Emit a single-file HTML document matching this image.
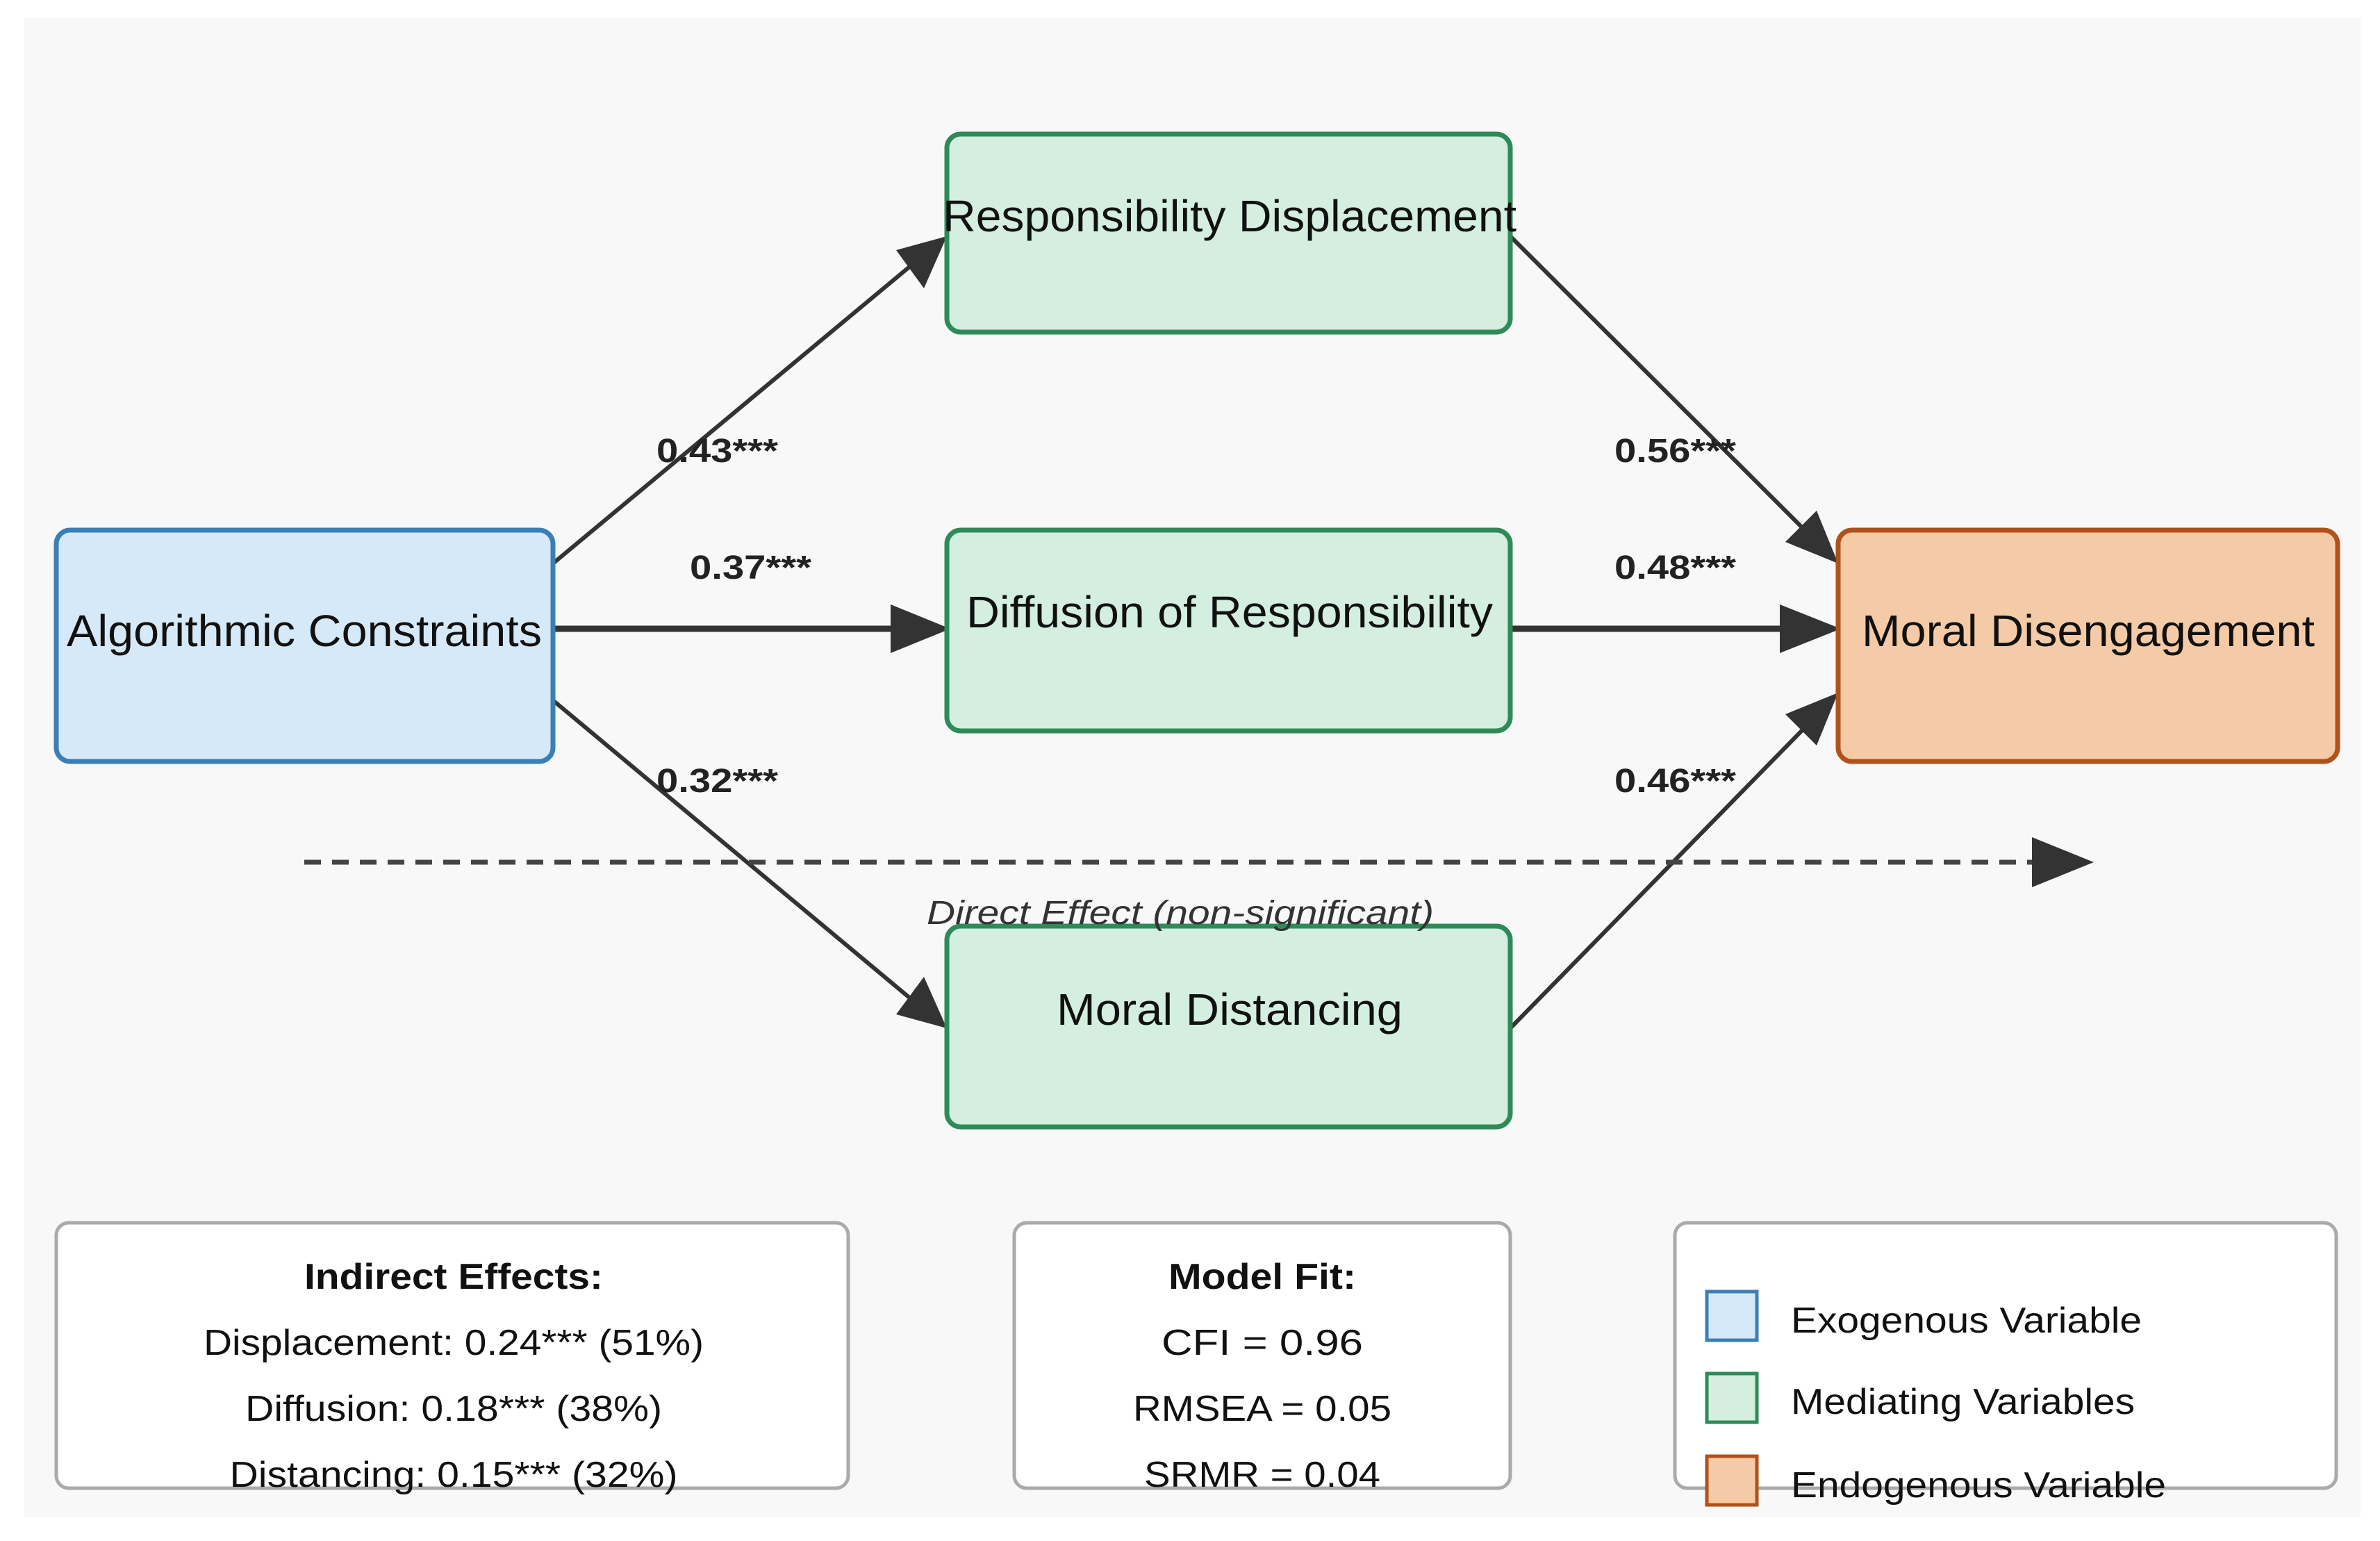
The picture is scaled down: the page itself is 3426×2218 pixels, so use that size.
<!DOCTYPE html>
<html><head><meta charset="utf-8"><style>html,body{margin:0;padding:0;background:#fff}svg{display:block}</style></head>
<body>
<svg width="3426" height="2218" viewBox="0 0 3426 2218" xmlns="http://www.w3.org/2000/svg" font-family="Liberation Sans, sans-serif">
<defs>
<marker id="ah" markerWidth="10" markerHeight="10" refX="9" refY="5" orient="auto" markerUnits="userSpaceOnUse" viewBox="0 0 10 10" style="overflow:visible">
</marker>
</defs>
<rect x="35" y="26" width="3363" height="2157" fill="#f8f8f8"/>
<!-- connectors -->
<g stroke="#333" stroke-width="6" fill="#333">
<line x1="796" y1="811" x2="1320" y2="375"/>
<polygon points="1363,340 1290,360 1330,415" stroke="none"/>
<line x1="796" y1="905" x2="1290" y2="905" stroke-width="9"/>
<polygon points="1368,905 1282,870 1282,940" stroke="none"/>
<line x1="796" y1="1008" x2="1320" y2="1445"/>
<polygon points="1363,1480 1330,1406 1290,1460" stroke="none"/>
<line x1="2174" y1="340" x2="2610" y2="775"/>
<polygon points="2646,811 2615,735 2570,780" stroke="none"/>
<line x1="2174" y1="905" x2="2580" y2="905" stroke-width="9"/>
<polygon points="2650,905 2562,870 2562,940" stroke="none"/>
<line x1="2174" y1="1480" x2="2610" y2="1035"/>
<polygon points="2646,997 2570,1028 2615,1073" stroke="none"/>
<line x1="438" y1="1241" x2="2935" y2="1241" stroke="#444" stroke-width="7" stroke-dasharray="24,16"/>
<polygon points="3014,1241 2925,1205 2925,1277" stroke="none"/>
</g>
<!-- nodes -->
<rect x="81" y="763" width="715" height="333" rx="20" fill="#d6e9f8" stroke="#3a7fb5" stroke-width="7"/>
<rect x="1363" y="193" width="811" height="285" rx="20" fill="#d4eedf" stroke="#2e8b57" stroke-width="7"/>
<rect x="1363" y="763" width="811" height="289" rx="20" fill="#d4eedf" stroke="#2e8b57" stroke-width="7"/>
<rect x="1363" y="1333" width="811" height="289" rx="20" fill="#d4eedf" stroke="#2e8b57" stroke-width="7"/>
<rect x="2646" y="763" width="719" height="333" rx="20" fill="#f5cba7" stroke="#b0521a" stroke-width="7"/>
<g font-size="64" fill="#111" text-anchor="middle">
<text x="438" y="930" textLength="684" lengthAdjust="spacingAndGlyphs">Algorithmic Constraints</text>
<text x="1770" y="333" textLength="826" lengthAdjust="spacingAndGlyphs">Responsibility Displacement</text>
<text x="1770" y="903" textLength="758" lengthAdjust="spacingAndGlyphs">Diffusion of Responsibility</text>
<text x="1770" y="1475" textLength="498" lengthAdjust="spacingAndGlyphs">Moral Distancing</text>
<text x="3006" y="930" textLength="652" lengthAdjust="spacingAndGlyphs">Moral Disengagement</text>
</g>
<g font-size="48" font-weight="bold" fill="#222">
<text x="945" y="665" textLength="175" lengthAdjust="spacingAndGlyphs">0.43***</text>
<text x="993" y="833" textLength="175" lengthAdjust="spacingAndGlyphs">0.37***</text>
<text x="945" y="1140" textLength="175" lengthAdjust="spacingAndGlyphs">0.32***</text>
<text x="2324" y="665" textLength="175" lengthAdjust="spacingAndGlyphs">0.56***</text>
<text x="2324" y="833" textLength="175" lengthAdjust="spacingAndGlyphs">0.48***</text>
<text x="2324" y="1140" textLength="175" lengthAdjust="spacingAndGlyphs">0.46***</text>
</g>
<text x="1699" y="1330" font-size="48" font-style="italic" fill="#333" text-anchor="middle" textLength="730" lengthAdjust="spacingAndGlyphs">Direct Effect (non-significant)</text>
<!-- bottom boxes -->
<rect x="81" y="1760" width="1140" height="382" rx="18" fill="#fff" stroke="#aaa" stroke-width="5"/>
<rect x="1460" y="1760" width="714" height="382" rx="18" fill="#fff" stroke="#aaa" stroke-width="5"/>
<rect x="2411" y="1760" width="952" height="382" rx="18" fill="#fff" stroke="#aaa" stroke-width="5"/>
<g font-size="52" fill="#111" text-anchor="middle">
<text x="653" y="1855" font-weight="bold" textLength="430" lengthAdjust="spacingAndGlyphs">Indirect Effects:</text>
<text x="653" y="1950" textLength="720" lengthAdjust="spacingAndGlyphs">Displacement: 0.24*** (51%)</text>
<text x="653" y="2045" textLength="600" lengthAdjust="spacingAndGlyphs">Diffusion: 0.18*** (38%)</text>
<text x="653" y="2140" textLength="645" lengthAdjust="spacingAndGlyphs">Distancing: 0.15*** (32%)</text>
<text x="1817" y="1855" font-weight="bold" textLength="270" lengthAdjust="spacingAndGlyphs">Model Fit:</text>
<text x="1817" y="1950" textLength="290" lengthAdjust="spacingAndGlyphs">CFI = 0.96</text>
<text x="1817" y="2045" textLength="372" lengthAdjust="spacingAndGlyphs">RMSEA = 0.05</text>
<text x="1817" y="2140" textLength="340" lengthAdjust="spacingAndGlyphs">SRMR = 0.04</text>
</g>
<rect x="2457" y="1859" width="72" height="70" fill="#d6e9f8" stroke="#3a7fb5" stroke-width="5"/>
<rect x="2457" y="1977" width="72" height="70" fill="#d4eedf" stroke="#2e8b57" stroke-width="5"/>
<rect x="2457" y="2096" width="72" height="70" fill="#f5cba7" stroke="#b0521a" stroke-width="5"/>
<g font-size="52" fill="#111">
<text x="2578" y="1918" textLength="505" lengthAdjust="spacingAndGlyphs">Exogenous Variable</text>
<text x="2578" y="2035" textLength="495" lengthAdjust="spacingAndGlyphs">Mediating Variables</text>
<text x="2578" y="2155" textLength="540" lengthAdjust="spacingAndGlyphs">Endogenous Variable</text>
</g>
</svg>
</body></html>
